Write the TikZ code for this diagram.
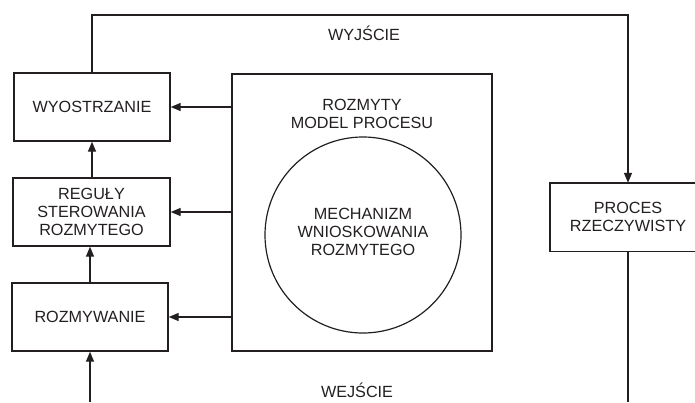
\documentclass[tikz,border=0pt]{standalone}
\usepackage{fontspec}
\setmainfont{Liberation Sans}
\usetikzlibrary{arrows.meta}
\definecolor{ink}{HTML}{231F20}
\begin{document}
\begin{tikzpicture}[x=1pt,y=-1pt,
  every node/.style={font=\fontsize{16.2}{18}\selectfont, text=ink, align=center},
  blockbox/.style={draw=ink, line width=1.4pt, rectangle, inner sep=0pt},
  arrow/.style={draw=ink, line width=1.4pt, -{Triangle[length=10pt,width=8pt]}},
  wire/.style={draw=ink, line width=1.4pt}]
  \useasboundingbox (0,0) rectangle (695,402);

  % controller blocks on the left
  \node[blockbox, minimum width=156pt, minimum height=68pt] (wyo) at (92,107) {WYOSTRZANIE};
  \node[blockbox, minimum width=157pt, minimum height=68pt] (reg) at (91.5,212) {REGUŁY\\STEROWANIA\\ROZMYTEGO};
  \node[blockbox, minimum width=156pt, minimum height=68pt] (roz) at (90,317) {ROZMYWANIE};

  % fuzzy process model with the inference engine
  \node[blockbox, minimum width=260pt, minimum height=277pt] (model) at (362,212.5) {};
  \node (modeltxt) at (362,114) {ROZMYTY\\MODEL PROCESU};
  \node[draw=ink, line width=1.2pt, circle, minimum size=196pt, inner sep=0pt] (mech) at (363,235) {};
  \node (mechtxt) at (363,232) {MECHANIZM\\WNIOSKOWANIA\\ROZMYTEGO};

  % real process; its box runs on past the right edge of the page
  \node[minimum width=156pt, minimum height=68pt, inner sep=0pt] (proc) at (628,217) {PROCES\\RZECZYWISTY};
  \draw[wire] (proc.north west) rectangle ([xshift=60pt]proc.south east);

  % free ends of the signal lines
  \coordinate (tl) at (92,15);
  \coordinate (in) at (90,402);
  \coordinate (out) at (628,402);

  % output loop to the process
  \draw[arrow] (wyo.north) -- (tl) -| (proc.north);
  \node (wyj) at (364,33) {WYJŚCIE};

  % input from the process side
  \draw[arrow] (in) -- (roz.south);
  \draw[wire] (proc.south) -- (out);
  \node (wej) at (357,390) {WEJŚCIE};

  % chain of controller blocks
  \draw[arrow] (roz.north) -- (roz.north |- reg.south);
  \draw[arrow] (reg.north -| wyo.south) -- (wyo.south);

  % model feeding each block
  \draw[arrow] (model.west |- wyo.east) -- (wyo.east);
  \draw[arrow] (model.west |- reg.east) -- (reg.east);
  \draw[arrow] (model.west |- roz.east) -- (roz.east);
\end{tikzpicture}
\end{document}
